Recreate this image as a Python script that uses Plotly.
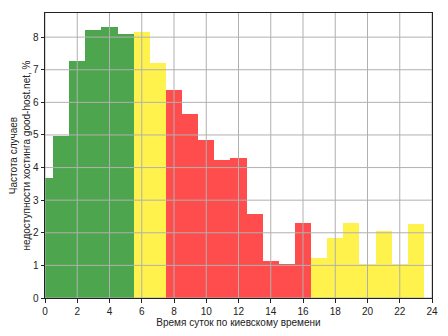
import plotly.graph_objects as go

hours = list(range(24))
freq = [3.67, 4.97, 7.26, 8.21, 8.30, 8.09, 8.15, 7.20, 6.37, 5.64, 4.84, 4.23,
        4.29, 2.57, 1.13, 1.04, 2.30, 1.23, 1.84, 2.30, 1.04, 2.05, 1.04, 2.27]
zone = ["g"] * 6 + ["y"] * 2 + ["r"] * 9 + ["y"] * 7
zone_colors = {"g": "rgb(77,166,77)", "y": "rgb(255,242,77)", "r": "rgb(255,77,77)"}
x_ticks = list(range(0, 25, 2))
y_ticks = list(range(0, 9))

fig = go.Figure(go.Bar(
    x=hours, y=freq, width=1,
    marker=dict(color=[zone_colors[z] for z in zone], line=dict(width=0)),
    hoverinfo="x+y",
))

grid = dict(color="#b0b0b0", width=1)
shapes = []
for t in x_ticks:
    shapes.append(dict(type="line", xref="x", yref="paper", x0=t, x1=t, y0=0, y1=1,
                       line=grid, layer="above"))
for t in y_ticks:
    shapes.append(dict(type="line", xref="paper", yref="y", x0=0, x1=1, y0=t, y1=t,
                       line=grid, layer="above"))

axis_common = dict(showgrid=False, zeroline=False, showline=True, linecolor="#222",
                   linewidth=1, mirror=True, ticks="outside", ticklen=3.5,
                   tickcolor="#222", tickfont=dict(size=10, color="#222"),
                   layer="above traces", automargin=False)

fig.update_layout(
    width=448, height=336,
    margin=dict(l=45, r=16, t=13, b=38),
    paper_bgcolor="white", plot_bgcolor="white",
    font=dict(family="Liberation Sans, Arial, sans-serif", size=10, color="#222"),
    bargap=0, showlegend=False, shapes=shapes,
    xaxis=dict(range=[0, 24], tickvals=x_ticks,
               title=dict(text="Время суток по киевскому времени", standoff=2,
                          font=dict(size=10)),
               **axis_common),
    yaxis=dict(range=[0, 8.74], tickvals=y_ticks,
               title=dict(text="Частота случаев<br>недоступности хостинга good-host.net, %",
                          standoff=0, font=dict(size=10)),
               **axis_common),
)

fig.write_html("out.html")
